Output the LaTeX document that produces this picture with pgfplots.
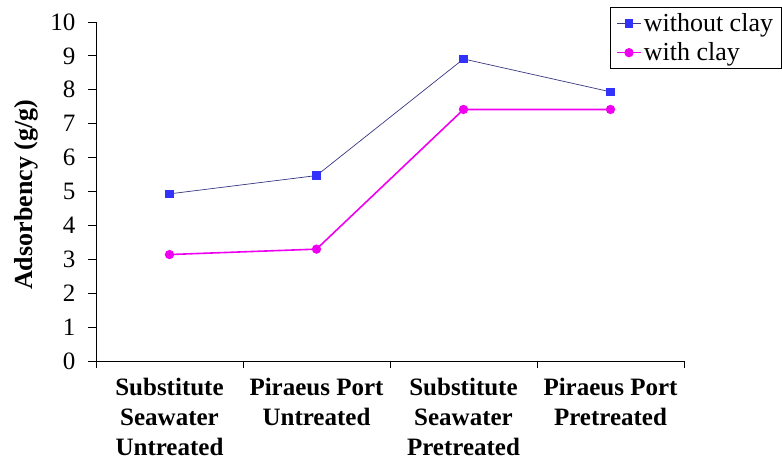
\documentclass[border=0pt]{standalone}
\usepackage{pgfplots}
\pgfplotsset{compat=1.18}
\usepackage{fontspec}
\setmainfont{Liberation Serif}
\definecolor{bline}{RGB}{55,55,130}
\definecolor{bmark}{RGB}{50,50,250}
\definecolor{mag}{RGB}{240,0,240}
\begin{document}
\begin{tikzpicture}[x=1pt,y=1pt]
\useasboundingbox (0,0) rectangle (782,469);
\begin{axis}[
  at={(96pt,108pt)}, anchor=south west,
  width=588pt, height=339pt, scale only axis,
  xmin=-0.5, xmax=3.5, ymin=0, ymax=10,
  axis x line*=bottom, axis y line*=left,
  axis line style={-, black, line width=0.8pt},
  ytick={0,...,10},
  xtick={0,1,2,3},
  xticklabels={{Substitute\\Seawater\\Untreated},{Piraeus Port\\Untreated},{Substitute\\Seawater\\Pretreated},{Piraeus Port\\Pretreated}},
  minor xtick={-0.5,0.5,1.5,2.5,3.5},
  major x tick style={draw=none},
  minor tick length=7pt,
  major tick length=8pt,
  tick align=outside,
  tick style={black, line width=0.8pt},
  /pgf/number format/assume math mode=true,
  yticklabel style={font=\fontsize{25}{30}\selectfont, xshift=-9pt},
  xticklabel style={font=\fontsize{25}{30}\selectfont\bfseries, align=center, yshift=-6pt},
  ylabel={Adsorbency (g/g)},
  every axis y label/.style={at={(axis description cs:-0.119,0.49)}, rotate=90, anchor=center, font=\fontsize{26}{30}\selectfont\bfseries},
  legend style={at={(axis description cs:0.874,1.044)}, anchor=north west,
    draw=black, line width=0.6pt, font=\fontsize{26}{30}\selectfont,
    legend cell align=left, inner xsep=6pt, inner ysep=4pt, row sep=6pt},
  legend image code/.code={\draw[mark repeat=2,mark phase=2] plot coordinates {(0pt,0pt)(12pt,0pt)(24pt,0pt)};},
  clip=false,
]
\addplot[color=bline, line width=0.7pt, mark=square*, mark size=3.8pt, mark options={fill=bmark, draw=bmark}]
  coordinates {(0,4.93) (1,5.47) (2,8.91) (3,7.94)};
\addlegendentry{without clay}
\addplot[color=mag, line width=1.6pt, mark=*, mark size=3.8pt, mark options={fill=mag, draw=mag}]
  coordinates {(0,3.14) (1,3.30) (2,7.42) (3,7.42)};
\addlegendentry{with clay}
\end{axis}
\end{tikzpicture}
\end{document}
